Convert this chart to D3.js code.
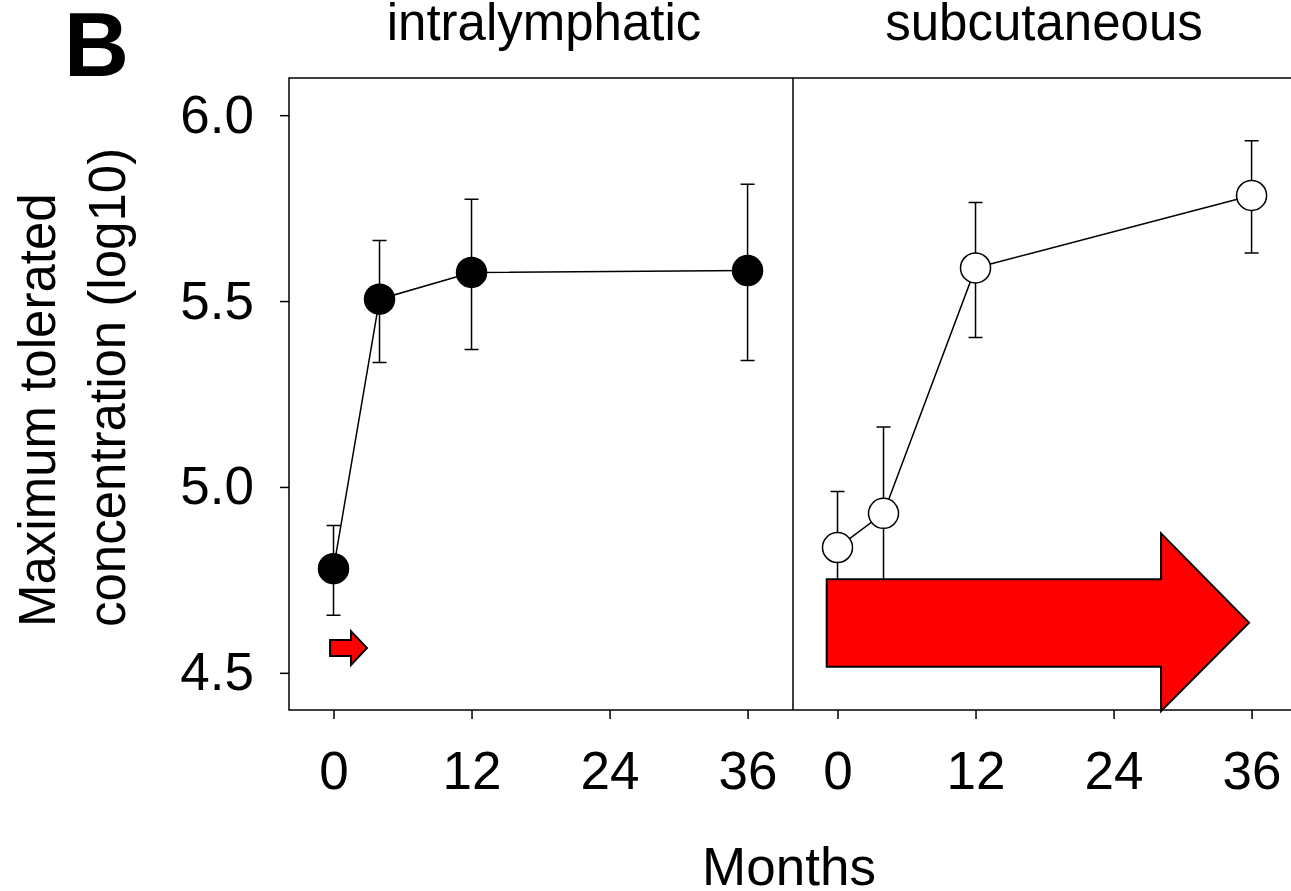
<!DOCTYPE html>
<html lang="en">
<head>
    <meta charset="UTF-8">
    <title>Maximum tolerated concentration</title>
    <script src="https://d3js.org/d3.v7.min.js"></script>
    <style>
        body { margin: 0; background: #fff; }
        svg { display: block; }
        text { font-family: "Liberation Sans", Arial, sans-serif; fill: #000; }
        .frame { fill: none; stroke: #000; stroke-width: 1.5; }
        .axis path { display: none; }
        .axis line { stroke: #000; stroke-width: 1.5; }
        .axis text { font-size: 53px; font-family: "Liberation Sans", Arial, sans-serif; }
        .err { stroke: #000; stroke-width: 1.5; }
        .trend { fill: none; stroke: #000; stroke-width: 1.5; }
        .arrow { fill: #ff0000; stroke: #000; stroke-width: 2; stroke-linejoin: miter; }
    </style>
</head>
<body>
    <svg width="1291" height="891"></svg>

    <script>
        // data (months, log10 values)
        const months = [0, 4, 12, 36];
        const xTicks = [0, 12, 24, 36];
        const yTicks = [4.5, 5.0, 5.5, 6.0];
        const panelNames = ["intralymphatic", "subcutaneous"];

        const ilitMean  = [4.78, 5.505, 5.577, 5.582];
        const ilitUpper = [4.896, 5.663, 5.774, 5.814];
        const ilitLower = [4.655, 5.335, 5.370, 5.340];

        const scitMean  = [4.837, 4.929, 5.589, 5.784];
        const scitUpper = [4.988, 5.161, 5.765, 5.931];
        const scitLower = [4.686, 4.697, 5.402, 5.629];

        const svg = d3.select("svg");

        const plotTop = 78, plotBottom = 710;
        const plotLeft = 289, plotMid = 793, plotRight = 1297;
        const xDomain = [-3.87, 39.95];

        const y = d3.scaleLinear().domain([4.4, 6.1]).range([plotBottom, plotTop]);
        const xLeft = d3.scaleLinear().domain(xDomain).range([plotLeft, plotMid]);
        const xRight = d3.scaleLinear().domain(xDomain).range([plotMid, plotRight]);

        // frame and panel divider
        svg.append("rect").attr("class", "frame")
            .attr("x", plotLeft).attr("y", plotTop)
            .attr("width", plotRight - plotLeft).attr("height", plotBottom - plotTop);
        svg.append("line").attr("class", "frame")
            .attr("x1", plotMid).attr("x2", plotMid).attr("y1", plotTop).attr("y2", plotBottom);

        // y axis
        svg.append("g").attr("class", "axis")
            .attr("transform", `translate(${plotLeft},0)`)
            .call(d3.axisLeft(y).tickValues(yTicks).tickFormat(d3.format(".1f"))
                .tickSize(9).tickPadding(26));

        // x axes
        [xLeft, xRight].forEach(x => {
            svg.append("g").attr("class", "axis")
                .attr("transform", `translate(0,${plotBottom})`)
                .call(d3.axisBottom(x).tickValues(xTicks).tickSize(9).tickPadding(32));
        });

        // panel titles
        svg.selectAll(".ptitle").data(panelNames).enter().append("text")
            .attr("class", "ptitle")
            .attr("x", (d, i) => i === 0 ? (plotLeft + plotMid) / 2 + 3 : (plotMid + 1291) / 2 + 2)
            .attr("y", 40)
            .attr("text-anchor", "middle")
            .style("font-size", "51px")
            .text(d => d);

        svg.append("text").attr("x", 64).attr("y", 76)
            .style("font-size", "90px").style("font-weight", "bold").text("B");

        svg.append("text").attr("x", 789).attr("y", 885)
            .attr("text-anchor", "middle").style("font-size", "53px").text("Months");

        const yTitle = svg.append("text")
            .attr("transform", "translate(0,627) rotate(-90)")
            .style("font-size", "51px");
        yTitle.append("tspan").attr("x", 0).attr("y", 55).text("Maximum tolerated");
        yTitle.append("tspan").attr("x", 0).attr("y", 125).text("concentration (log10)");

        function drawSeries(x, mean, upper, lower, filled) {
            const g = svg.append("g");
            const pts = months.map((m, i) => ({ m, v: mean[i], hi: upper[i], lo: lower[i] }));

            g.selectAll(".err").data(pts).enter().append("path")
                .attr("class", "err")
                .attr("d", d => {
                    const cx = x(d.m), y1 = y(d.hi), y2 = y(d.lo);
                    return `M${cx},${y1}V${y2}M${cx - 7},${y1}H${cx + 7}M${cx - 7},${y2}H${cx + 7}`;
                });

            g.append("path").attr("class", "trend")
                .attr("d", d3.line().x(d => x(d.m)).y(d => y(d.v))(pts));

            g.selectAll("circle").data(pts).enter().append("circle")
                .attr("cx", d => x(d.m)).attr("cy", d => y(d.v)).attr("r", 15)
                .attr("fill", filled ? "#000" : "#fff")
                .attr("stroke", "#000").attr("stroke-width", 1.5);
        }

        drawSeries(xLeft, ilitMean, ilitUpper, ilitLower, true);
        drawSeries(xRight, scitMean, scitUpper, scitLower, false);

        // block arrows, given in data units: x0 start, xh head base, xt tip, body/head extents
        function blockArrow(x, a) {
            const pts = [
                [a.x0, a.bodyTop], [a.xh, a.bodyTop], [a.xh, a.headTop],
                [a.xt, a.mid], [a.xh, a.headBot], [a.xh, a.bodyBot], [a.x0, a.bodyBot]
            ];
            svg.append("polygon").attr("class", "arrow")
                .attr("points", pts.map(p => [x(p[0]), y(p[1])].join(",")).join(" "));
        }

        blockArrow(xLeft, { x0: -0.3, xh: 1.52, xt: 2.91, bodyTop: 4.588, bodyBot: 4.545,
                            headTop: 4.612, headBot: 4.521, mid: 4.567 });
        blockArrow(xRight, { x0: -0.94, xh: 28.13, xt: 35.78, bodyTop: 4.7515, bodyBot: 4.5165,
                             headTop: 4.875, headBot: 4.397, mid: 4.635 });
    </script>
</body>
</html>
